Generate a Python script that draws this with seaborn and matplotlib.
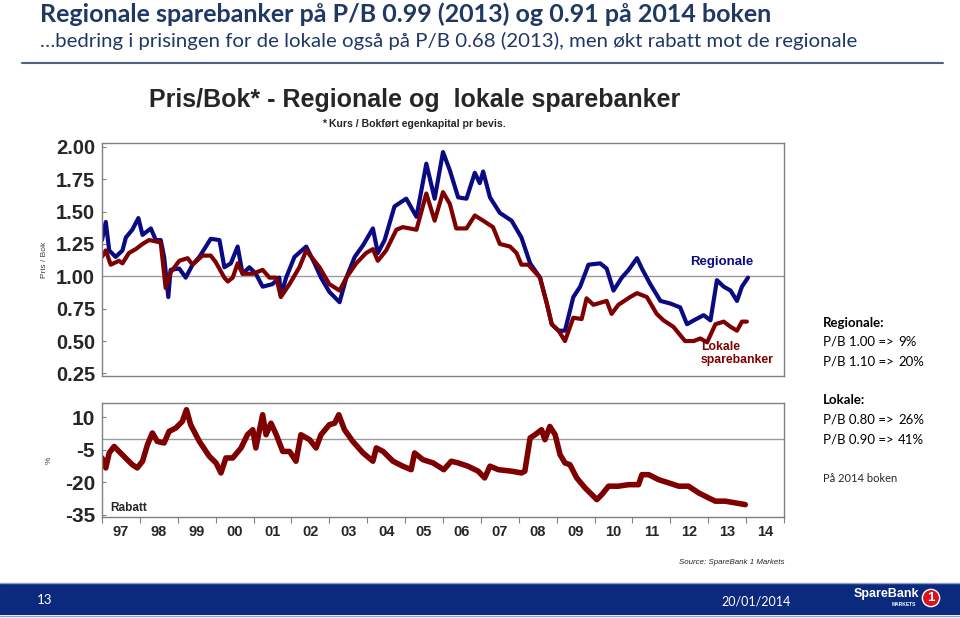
import matplotlib
matplotlib.use("Agg")
import matplotlib.pyplot as plt
from matplotlib.patches import Rectangle
import seaborn as sns

# Pris/Bok - regionale sparebanker (blå)
reg_t = [1997.0, 1997.1, 1997.19, 1997.36, 1997.54, 1997.63, 1997.8, 1997.96, 1998.07, 1998.29,
         1998.42, 1998.55, 1998.64, 1998.75, 1998.81, 1999.04, 1999.21, 1999.39, 1999.57, 1999.87,
         2000.1, 2000.23, 2000.4, 2000.58, 2000.71, 2000.89, 2001.06, 2001.24, 2001.5, 2001.68,
         2001.72, 2001.86, 2002.08, 2002.39, 2002.61, 2002.78, 2003.0, 2003.27, 2003.45, 2003.67,
         2003.89, 2004.15, 2004.28, 2004.46, 2004.72, 2005.03, 2005.3, 2005.56, 2005.65, 2005.78,
         2006.0, 2006.18, 2006.4, 2006.62, 2006.84, 2006.97, 2007.06, 2007.24, 2007.5, 2007.81,
         2008.07, 2008.3, 2008.56, 2008.74, 2008.87, 2009.05, 2009.22, 2009.44, 2009.62, 2009.84,
         2010.15, 2010.32, 2010.5, 2010.72, 2010.9, 2011.12, 2011.25, 2011.47, 2011.74, 2012.0,
         2012.26, 2012.44, 2012.62, 2012.88, 2013.06, 2013.23, 2013.41, 2013.59, 2013.76, 2013.89,
         2014.05]
reg_pb = [1.28, 1.42, 1.20, 1.15, 1.20, 1.30, 1.36, 1.45, 1.32, 1.37,
          1.28, 1.28, 1.15, 0.84, 1.05, 1.06, 0.99, 1.09, 1.15, 1.29,
          1.28, 1.07, 1.10, 1.23, 1.02, 1.07, 1.02, 0.92, 0.94, 0.99,
          0.85, 0.99, 1.15, 1.23, 1.10, 0.99, 0.88, 0.80, 0.99, 1.15,
          1.24, 1.37, 1.18, 1.28, 1.54, 1.60, 1.46, 1.87, 1.76, 1.60,
          1.96, 1.82, 1.61, 1.60, 1.80, 1.72, 1.81, 1.61, 1.49, 1.43,
          1.30, 1.10, 0.99, 0.79, 0.63, 0.58, 0.58, 0.84, 0.92, 1.09,
          1.10, 1.06, 0.89, 0.99, 1.05, 1.14, 1.06, 0.94, 0.81, 0.79,
          0.76, 0.63, 0.66, 0.70, 0.66, 0.97, 0.92, 0.89, 0.81, 0.92,
          0.99]

# Pris/Bok - lokale sparebanker (rød)
lok_t = [1997.0, 1997.1, 1997.23, 1997.45, 1997.54, 1997.71, 1997.89, 1998.07, 1998.24, 1998.42,
         1998.55, 1998.68, 1998.81, 1999.04, 1999.26, 1999.39, 1999.65, 1999.87, 2000.0, 2000.23,
         2000.32, 2000.45, 2000.58, 2000.71, 2000.98, 2001.24, 2001.42, 2001.6, 2001.72, 2001.95,
         2002.21, 2002.39, 2002.74, 2003.0, 2003.27, 2003.45, 2003.71, 2003.97, 2004.15, 2004.28,
         2004.5, 2004.77, 2004.94, 2005.3, 2005.56, 2005.78, 2006.0, 2006.18, 2006.35, 2006.62,
         2006.84, 2007.06, 2007.32, 2007.5, 2007.77, 2007.94, 2008.07, 2008.25, 2008.56, 2008.74,
         2008.87, 2009.05, 2009.22, 2009.44, 2009.66, 2009.79, 2009.97, 2010.32, 2010.45, 2010.63,
         2010.94, 2011.12, 2011.38, 2011.64, 2011.82, 2012.08, 2012.39, 2012.62, 2012.79, 2012.97,
         2013.19, 2013.41, 2013.59, 2013.76, 2013.89, 2014.02]
lok_pb = [1.15, 1.20, 1.09, 1.12, 1.10, 1.18, 1.21, 1.25, 1.28, 1.27,
          1.26, 0.91, 1.03, 1.12, 1.14, 1.09, 1.16, 1.16, 1.11, 0.99,
          0.96, 0.99, 1.10, 1.02, 1.02, 1.05, 0.99, 0.99, 0.84, 0.94,
          1.07, 1.20, 1.07, 0.94, 0.89, 0.99, 1.10, 1.18, 1.21, 1.12,
          1.20, 1.36, 1.38, 1.36, 1.64, 1.43, 1.65, 1.56, 1.37, 1.37,
          1.47, 1.43, 1.38, 1.25, 1.23, 1.18, 1.09, 1.09, 0.99, 0.79,
          0.63, 0.58, 0.50, 0.68, 0.67, 0.83, 0.78, 0.81, 0.71, 0.78,
          0.84, 0.87, 0.84, 0.71, 0.66, 0.61, 0.50, 0.50, 0.52, 0.49,
          0.63, 0.65, 0.61, 0.58, 0.65, 0.65]

# Rabatt (%)
rab_t = [1997.0, 1997.1, 1997.19, 1997.32, 1997.45, 1997.62, 1997.8, 1997.93, 1998.07, 1998.2,
         1998.33, 1998.46, 1998.64, 1998.77, 1998.95, 1999.12, 1999.23, 1999.34, 1999.57, 1999.83,
         2000.01, 2000.14, 2000.27, 2000.45, 2000.67, 2000.84, 2000.98, 2001.06, 2001.24, 2001.33,
         2001.46, 2001.6, 2001.77, 2001.95, 2002.12, 2002.25, 2002.48, 2002.65, 2002.78, 2003.0,
         2003.14, 2003.25, 2003.4, 2003.62, 2003.89, 2004.15, 2004.24, 2004.42, 2004.68, 2004.94,
         2005.16, 2005.25, 2005.47, 2005.74, 2006.02, 2006.22, 2006.4, 2006.66, 2006.93, 2007.1,
         2007.24, 2007.46, 2007.81, 2008.07, 2008.16, 2008.3, 2008.43, 2008.6, 2008.69, 2008.82,
         2008.96, 2009.09, 2009.22, 2009.35, 2009.53, 2009.75, 2009.93, 2010.06, 2010.19, 2010.37,
         2010.63, 2010.9, 2011.16, 2011.25, 2011.43, 2011.69, 2011.96, 2012.22, 2012.48, 2012.75,
         2013.01, 2013.19, 2013.45, 2013.72, 2013.98]
rab_pct = [-8.8, -13.4, -6.5, -3.5, -5.8, -8.8, -11.9, -13.4, -10.3, -2.7,
           2.7, -1.2, -1.9, 3.4, 5.0, 8.0, 13.4, 6.5, -1.2, -8.0,
           -11.1, -15.7, -8.8, -8.8, -4.2, 1.9, 4.2, -4.2, 11.1, 1.9,
           7.2, 1.9, -5.8, -5.8, -10.3, 1.9, -0.4, -4.2, 1.9, 6.5,
           7.2, 11.1, 4.2, -1.2, -6.5, -10.3, -4.2, -5.8, -10.3, -12.6,
           -14.2, -6.5, -9.6, -11.1, -14.2, -10.3, -11.1, -12.6, -14.9, -18.0,
           -12.6, -14.2, -14.9, -15.7, -14.9, 0.4, 1.9, 4.2, -0.4, 5.7,
           1.9, -7.3, -11.1, -11.9, -18.0, -22.6, -25.7, -28.0, -25.7, -21.8,
           -21.8, -21.1, -21.1, -16.5, -16.5, -18.8, -20.3, -21.8, -21.8, -24.9,
           -27.2, -28.7, -28.7, -29.5, -30.3]

years = list(range(1997, 2016))
year_labels = ["97", "98", "99", "00", "01", "02", "03", "04", "05", "06",
               "07", "08", "09", "10", "11", "12", "13", "14"]
pb_ticks = [2.00, 1.75, 1.50, 1.25, 1.00, 0.75, 0.50, 0.25]
rab_ticks = [10, -5, -20, -35]

BLUE = "#0A0A82"
RED = "#7F0000"
TITLE = "#1F3864"

sns.set_style("white")
plt.rcParams["axes.unicode_minus"] = False
plt.rcParams["font.family"] = ["Liberation Sans", "DejaVu Sans"]

fig = plt.figure(figsize=(9.6, 6.18), dpi=100)

ax1 = fig.add_axes([0.10625, 0.3916, 0.7104, 0.3770])
ax2 = fig.add_axes([0.10625, 0.1634, 0.7104, 0.1845])

# top panel
ax1.axhline(1.0, color="#9A9A9A", lw=1)
sns.lineplot(x=reg_t, y=reg_pb, color=BLUE, lw=3, ax=ax1)
sns.lineplot(x=lok_t, y=lok_pb, color=RED, lw=3, ax=ax1)
ax1.set_xlim(1997, 2015)
ax1.set_ylim(0.23, 2.03)
ax1.set_xticks([])
ax1.set_yticks(pb_ticks)
ax1.set_yticklabels([f"{v:.2f}" for v in pb_ticks], fontsize=14.5, fontweight="bold")
ax1.tick_params(axis="y", direction="in", length=3, color="#808080", pad=5, left=True)
ax1.set_ylabel("Pris / Bok", fontsize=6, color="#404040")
ax1.yaxis.set_label_coords(-0.079, 0.5)

ax1.text(2012.53, 1.11, "Regionale", color=BLUE, fontsize=9.5, fontweight="bold", va="center")
ax1.text(2012.8, 0.50, "Lokale\nsparebanker", color=RED, fontsize=8.8, fontweight="bold",
         va="top", linespacing=1.15)

# bottom panel
ax2.axhline(0, color="#9A9A9A", lw=1)
sns.lineplot(x=rab_t, y=rab_pct, color=RED, lw=4, ax=ax2)
ax2.set_xlim(1997, 2015)
ax2.set_ylim(-36, 16.5)
ax2.set_yticks(rab_ticks)
ax2.set_yticklabels([str(v) for v in rab_ticks], fontsize=15, fontweight="bold")
ax2.tick_params(axis="y", direction="in", length=3, color="#808080", pad=5, left=True)
ax2.set_xticks(years)
ax2.set_xticklabels([])
ax2.set_xticks([y + 0.5 for y in years[:-1]], minor=True)
ax2.set_xticklabels(year_labels, minor=True, fontsize=10.5, fontweight="bold")
ax2.tick_params(axis="x", which="major", direction="out", length=4, color="#808080", bottom=True)
ax2.tick_params(axis="x", which="minor", length=0, pad=6)
ax2.set_ylabel("%", fontsize=6, color="#404040")
ax2.yaxis.set_label_coords(-0.072, 0.5)
ax2.text(0.012, 0.05, "Rabatt", transform=ax2.transAxes, fontsize=8.5, fontweight="bold")

for ax in (ax1, ax2):
    for s in ax.spines.values():
        s.set_color("#808080")
        s.set_linewidth(1)

# headings
fig.text(40 / 960, 1 - 14 / 618, "Regionale sparebanker på P/B 0.99 (2013) og 0.91 på 2014 boken",
         family=["Lato", "DejaVu Sans"], fontsize=18, fontweight="bold", color=TITLE, va="center")
fig.text(40 / 960, 1 - 41 / 618,
         "\u2026bedring i prisingen for de lokale også på P/B 0.68 (2013), men økt rabatt mot de regionale",
         family=["Lato", "DejaVu Sans"], fontsize=14.7, color=TITLE, va="center")
fig.add_artist(plt.Line2D([22 / 960, 943 / 960], [1 - 63 / 618] * 2, color="#4F6180", lw=1.5))

fig.text(415 / 960, 1 - 100 / 618, "Pris/Bok* - Regionale og  lokale sparebanker",
         fontsize=18, fontweight="bold", ha="center", va="center")
fig.text(322 / 960, 1 - 124 / 618, "* Kurs / Bokført egenkapital pr bevis.",
         fontsize=7.6, fontweight="bold", va="center")

# side notes
side = dict(family=["Lato", "DejaVu Sans"], fontsize=9.5, color="black", va="center")
fig.text(823 / 960, 1 - 323 / 618, "Regionale:", fontweight="bold", **side)
fig.text(823 / 960, 1 - 342 / 618, "P/B 1.00 =>", **side)
fig.text(898 / 960, 1 - 342 / 618, "9%", **side)
fig.text(823 / 960, 1 - 362 / 618, "P/B 1.10 =>", **side)
fig.text(898 / 960, 1 - 362 / 618, "20%", **side)
fig.text(823 / 960, 1 - 400 / 618, "Lokale:", fontweight="bold", **side)
fig.text(823 / 960, 1 - 420 / 618, "P/B 0.80 =>", **side)
fig.text(898 / 960, 1 - 420 / 618, "26%", **side)
fig.text(823 / 960, 1 - 440 / 618, "P/B 0.90 =>", **side)
fig.text(898 / 960, 1 - 440 / 618, "41%", **side)
fig.text(823 / 960, 1 - 478 / 618, "På 2014 boken", family=["Lato", "DejaVu Sans"],
         fontsize=8, va="center")

fig.text(679 / 960, 1 - 562 / 618, "Source: SpareBank 1 Markets", fontsize=5.7,
         style="italic", va="center")

# footer band
fig.add_artist(Rectangle((0, 1 - 615 / 618), 1, 32 / 618, transform=fig.transFigure,
                         facecolor="#0B2A7E", edgecolor="none"))
fig.add_artist(plt.Line2D([0, 1], [1 - 583 / 618] * 2, color="#8FA0C8", lw=1))
fig.add_artist(plt.Line2D([0, 1], [1 - 615.5 / 618] * 2, color="#8FA0C8", lw=1))
fig.text(37 / 960, 1 - 600 / 618, "13", color="white", fontsize=9.5,
         family=["Lato", "DejaVu Sans"], va="center")
fig.text(721 / 960, 1 - 601 / 618, "20/01/2014", color="white", fontsize=9,
         family=["Lato", "DejaVu Sans"], va="center")
fig.text(854 / 960, 1 - 594 / 618, "SpareBank", color="white", fontsize=9,
         fontweight="bold", va="center")
fig.text(916 / 960, 1 - 605 / 618, "MARKETS", color="white", fontsize=3.5,
         fontweight="bold", va="center", ha="right")
fig.text(931 / 960, 1 - 598 / 618, "1", color="white", fontsize=9.5, fontweight="bold",
         ha="center", va="center",
         bbox=dict(boxstyle="circle,pad=0.2", fc="#D7141A", ec="white", lw=1))

fig.savefig("out.png", dpi=100)
